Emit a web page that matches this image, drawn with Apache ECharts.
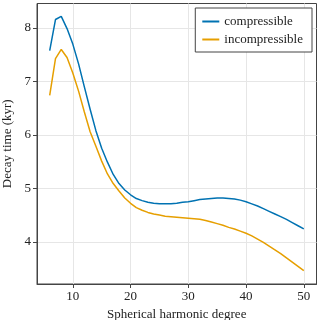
<!DOCTYPE html>
<html>
<head>
<meta charset="utf-8">
<script src="https://cdn.jsdelivr.net/npm/echarts@6/dist/echarts.min.js"></script>
<style>html,body{margin:0;padding:0;background:#fff}#c{width:320px;height:320px}</style>
</head>
<body>
<div id="c"></div>
<script>
var degrees = [6,7,8,9,10,11,12,13,14,15,16,17,18,19,20,21,22,23,24,25,26,27,28,29,30,31,32,33,34,35,36,37,38,39,40,41,42,43,44,45,46,47,48,49,50];
var compressible = [7.58,8.16,8.22,7.99,7.70,7.33,6.90,6.48,6.08,5.75,5.49,5.26,5.09,4.97,4.88,4.81,4.77,4.74,4.72,4.71,4.71,4.71,4.72,4.74,4.75,4.77,4.79,4.80,4.81,4.82,4.82,4.81,4.80,4.78,4.75,4.71,4.67,4.62,4.57,4.52,4.47,4.42,4.36,4.30,4.24];
var incompressible = [6.74,7.43,7.60,7.45,7.16,6.82,6.43,6.06,5.79,5.51,5.27,5.09,4.95,4.82,4.72,4.64,4.59,4.55,4.52,4.50,4.48,4.47,4.46,4.45,4.44,4.43,4.42,4.40,4.37,4.34,4.31,4.27,4.24,4.20,4.16,4.11,4.05,3.99,3.92,3.85,3.78,3.70,3.62,3.54,3.46];
var xTicks = [10,20,30,40,50];
var yTicks = [4,5,6,7,8];
var seriesNames = ['compressible','incompressible'];

var font = 'Liberation Serif';
function pairs(xs, ys){ return xs.map(function(x,i){ return [x, ys[i]]; }); }

var chart = echarts.init(document.getElementById('c'), null, {renderer:'canvas'});
chart.setOption({
  animation: false,
  backgroundColor: '#fff',
  grid: {left: 37, right: 3.5, top: 3.5, bottom: 36, containLabel: false, outerBoundsMode: 'none',
         show: true, borderColor: '#444', borderWidth: 1, backgroundColor: 'transparent'},
  legend: {
    orient: 'vertical', right: 8, top: 8,
    backgroundColor: '#fff',
    borderColor: '#444', borderWidth: 1, borderRadius: 0,
    padding: [7, 9, 6, 6],
    itemWidth: 17, itemHeight: 14, itemGap: 5,
    itemStyle: {color: 'transparent', borderWidth: 0, opacity: 0},
    textStyle: {fontFamily: font, fontSize: 13, color: '#222'},
    data: seriesNames
  },
  xAxis: {
    type: 'value', min: 3.8, max: 52.2,
    name: 'Spherical harmonic degree', nameLocation: 'middle', nameGap: 21,
    nameTextStyle: {fontFamily: font, fontSize: 13, color: '#222'},
    axisLine: {show: true, onZero: false, lineStyle: {color: '#444', width: 1}},
    axisTick: {show: true, inside: false, length: 4, customValues: xTicks, lineStyle: {color: '#444'}},
    axisLabel: {customValues: xTicks, fontFamily: font, fontSize: 13, color: '#222', margin: 6},
    splitLine: {show: true, lineStyle: {color: '#e6e6e6', width: 1}}
  },
  yAxis: {
    type: 'value', min: 3.21, max: 8.46,
    name: 'Decay time (kyr)', nameLocation: 'middle', nameGap: 22,
    nameTextStyle: {fontFamily: font, fontSize: 13, color: '#222'},
    axisLine: {show: true, onZero: false, lineStyle: {color: '#444', width: 1}},
    axisTick: {show: true, inside: false, length: 4, customValues: yTicks, lineStyle: {color: '#444'}},
    axisLabel: {customValues: yTicks, fontFamily: font, fontSize: 13, color: '#222', margin: 6},
    splitLine: {show: true, lineStyle: {color: '#e6e6e6', width: 1}}
  },
  series: [
    {name: seriesNames[0], type: 'line', data: pairs(degrees, compressible), symbol: 'none', smooth: false,
     itemStyle: {color: '#0072B2'}, lineStyle: {color: '#0072B2', width: 1.5}},
    {name: seriesNames[1], type: 'line', data: pairs(degrees, incompressible), symbol: 'none', smooth: false,
     itemStyle: {color: '#E69F00'}, lineStyle: {color: '#E69F00', width: 1.5}}
  ]
});
</script>
</body>
</html>
